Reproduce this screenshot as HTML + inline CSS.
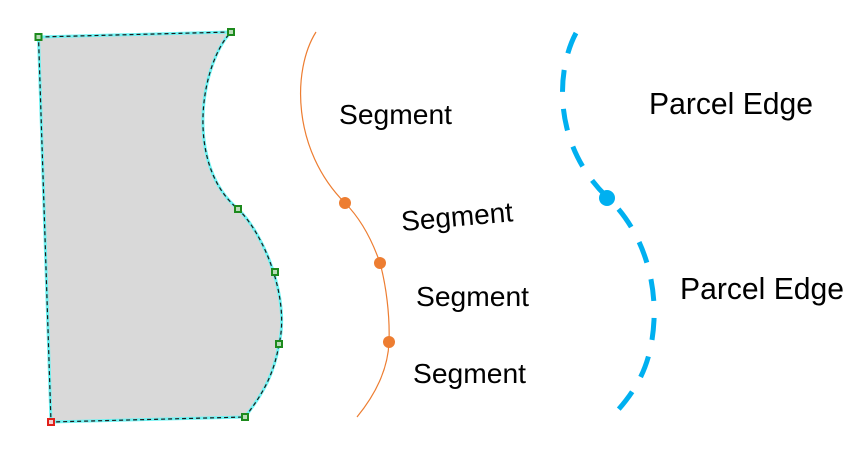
<!DOCTYPE html>
<html>
<head>
<meta charset="utf-8">
<style>
  html,body{margin:0;padding:0;background:#fff;}
  svg{display:block;}
  text{font-family:"Liberation Sans", Arial, sans-serif; fill:#000;}
</style>
</head>
<body>
<svg width="864" height="454" viewBox="0 0 864 454" xmlns="http://www.w3.org/2000/svg">
  <rect width="864" height="454" fill="#fff"/>

  <!-- Parcel polygon -->
  <path d="M38.5,37 L231,32 C200,65 185,165 238,209 C265,235 290,300 279,344 C274,375 262,395 245,417 L51,422 Z"
        fill="#d9d9d9" stroke="#6ff3f3" stroke-width="3" stroke-linejoin="round"/>
  <path d="M38.5,37 L231,32 C200,65 185,165 238,209 C265,235 290,300 279,344 C274,375 262,395 245,417 L51,422 Z"
        fill="none" stroke="#1a1a1a" stroke-width="1.2" stroke-dasharray="4,3"/>

  <!-- vertex markers -->
  <g stroke="#1d8a1d" stroke-width="2" fill="#b9dcb9">
    <rect x="35.5" y="34" width="6" height="6"/>
    <rect x="228" y="29" width="6" height="6"/>
    <rect x="235" y="206" width="6" height="6"/>
    <rect x="272" y="269" width="6" height="6"/>
    <rect x="276" y="341" width="6" height="6"/>
    <rect x="242" y="414" width="6" height="6"/>
  </g>
  <rect x="48" y="419" width="6" height="6" stroke="#e0201a" stroke-width="2" fill="#f4d0d0"/>

  <!-- Orange segment curve -->
  <path d="M316,32 C292,70 292,150 345,203 C360,218 372,240 380,263 C386,285 390,315 389,342 C388,370 375,395 357,417"
        fill="none" stroke="#ed7d31" stroke-width="1.2"/>
  <g fill="#ed7d31">
    <circle cx="345" cy="203" r="6"/>
    <circle cx="380" cy="263" r="6"/>
    <circle cx="389" cy="342" r="6"/>
  </g>

  <text x="339" y="124" font-size="28" textLength="113" lengthAdjust="spacingAndGlyphs">Segment</text>
  <text x="0" y="0" font-size="28" textLength="112" lengthAdjust="spacingAndGlyphs" transform="translate(402,231) rotate(-5)">Segment</text>
  <text x="416" y="306" font-size="28" textLength="113" lengthAdjust="spacingAndGlyphs">Segment</text>
  <text x="413" y="383" font-size="28" textLength="113" lengthAdjust="spacingAndGlyphs">Segment</text>

  <!-- Blue parcel edge curve -->
  <path d="M576,33 C556,70 552,145 608,198 C640,228 656,275 654,320 C652,360 640,385 618,410"
        fill="none" stroke="#00b0f0" stroke-width="5" stroke-dasharray="22,17"/>
  <circle cx="607" cy="198" r="8" fill="#00b0f0"/>

  <text x="649" y="114" font-size="31" textLength="164" lengthAdjust="spacingAndGlyphs">Parcel Edge</text>
  <text x="680" y="299" font-size="31" textLength="164" lengthAdjust="spacingAndGlyphs">Parcel Edge</text>
</svg>
</body>
</html>
